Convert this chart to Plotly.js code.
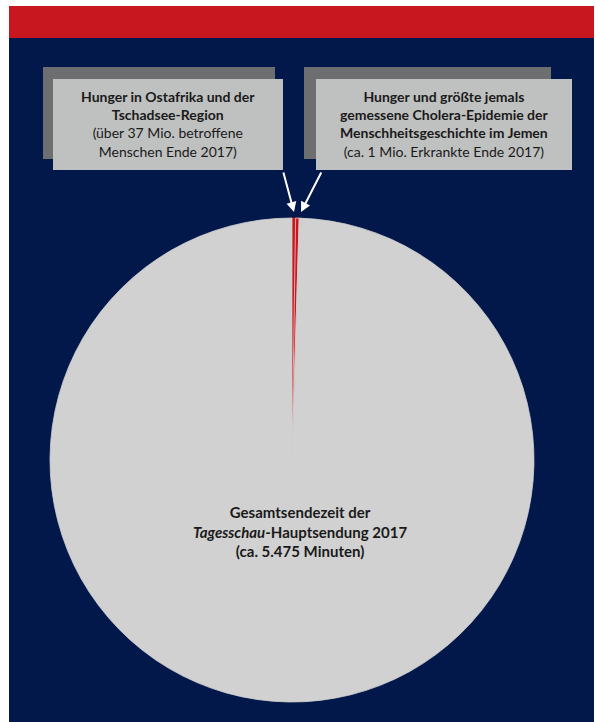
<!DOCTYPE html>
<html>
<head>
<meta charset="utf-8">
<script src="https://cdn.plot.ly/plotly-3.0.1.min.js"></script>
<style>
  html, body { margin: 0; padding: 0; background: #ffffff; }
  #chart { width: 595px; height: 722px; }
</style>
</head>
<body>
<div id="chart"></div>
<script>
// ---- data ----
const categories = [
  "Hunger in Ostafrika und der Tschadsee-Region",
  "Hunger und Cholera-Epidemie im Jemen",
  "Gesamtsendezeit der Tagesschau-Hauptsendung 2017"
];
const minutes = [13, 13, 5449];
const boxLabels = [
  "<b>Hunger in Ostafrika und der<br>Tschadsee-Region</b><br>(über 37 Mio. betroffene<br>Menschen Ende 2017)",
  "<b>Hunger und größte jemals<br>gemessene Cholera-Epidemie der<br>Menschheitsgeschichte im Jemen</b><br>(ca. 1 Mio. Erkrankte Ende 2017)"
];
const pieLabel = "<b>Gesamtsendezeit der<br><i>Tagesschau</i>-Hauptsendung 2017<br>(ca. 5.475 Minuten)</b>";

// ---- layout helpers ----
const W = 595, H = 722;
const px = x => x / W;
const py = y => 1 - y / H;
const NAVY = "#02174a", RED = "#c8171e", GREY = "#d0d1d0";
const BOX = "#bfc0c0", SHADOW = "#6d6e70", TXT = "#1a1a1a";
const FONT = "Lato, 'Open Sans', sans-serif";

const cx = 292, cy = 460, r = 242;

const trace = {
  type: "pie",
  labels: categories,
  values: minutes,
  sort: false,
  direction: "clockwise",
  rotation: 0,
  textinfo: "none",
  hoverinfo: "label+value",
  showlegend: false,
  marker: {
    colors: [RED, RED, GREY],
    line: { color: [RED, "#f3d0d0", GREY], width: 0.8 }
  },
  domain: { x: [px(cx - r), px(cx + r)], y: [py(cy + r), py(cy - r)] }
};

function rect(x0, y0, x1, y1, color, layer) {
  return { type: "rect", xref: "paper", yref: "paper", layer: layer || "below",
    x0: px(x0), x1: px(x1), y0: py(y1), y1: py(y0),
    fillcolor: color, line: { width: 0 } };
}

const shapes = [
  rect(9, 6, 594, 722, NAVY),
  rect(9, 6, 594, 38, RED),
  rect(43, 67, 275, 159, SHADOW, "above"),
  rect(53, 79, 283, 170, BOX, "above"),
  rect(304, 67, 551, 159, SHADOW, "above"),
  rect(316, 79, 572, 170, BOX, "above")
];

const annotations = [
  { xref: "paper", yref: "paper", x: px(168), y: py(124.5), text: boxLabels[0],
    showarrow: false, xanchor: "center", yanchor: "middle", align: "center",
    font: { family: FONT, size: 14, color: TXT } },
  { xref: "paper", yref: "paper", x: px(444), y: py(124.5), text: boxLabels[1],
    showarrow: false, xanchor: "center", yanchor: "middle", align: "center",
    font: { family: FONT, size: 14, color: TXT } },
  { xref: "paper", yref: "paper", x: px(300), y: py(531), text: pieLabel,
    showarrow: false, xanchor: "center", yanchor: "middle", align: "center",
    font: { family: FONT, size: 15, color: TXT } },
  { xref: "paper", yref: "paper", x: px(294), y: py(212), text: "",
    showarrow: true, ax: -11, ay: -41, arrowcolor: "#ffffff", arrowwidth: 2,
    arrowhead: 2, arrowsize: 1 },
  { xref: "paper", yref: "paper", x: px(301), y: py(212), text: "",
    showarrow: true, ax: 21, ay: -41, arrowcolor: "#ffffff", arrowwidth: 2,
    arrowhead: 2, arrowsize: 1 }
];

const layout = {
  width: W, height: H,
  margin: { l: 0, r: 0, t: 0, b: 0 },
  paper_bgcolor: "#ffffff",
  plot_bgcolor: "rgba(0,0,0,0)",
  showlegend: false,
  shapes: shapes,
  annotations: annotations,
  font: { family: FONT }
};

Plotly.newPlot("chart", [trace], layout, { displayModeBar: false, staticPlot: true });
</script>
</body>
</html>
